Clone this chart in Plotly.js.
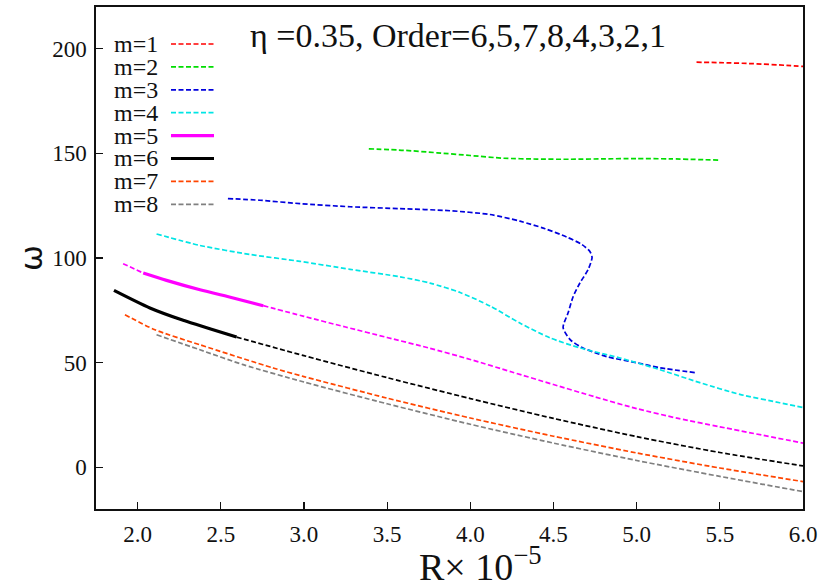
<!DOCTYPE html>
<html>
<head>
<meta charset="utf-8">
<script src="https://cdn.plot.ly/plotly-3.0.1.min.js"></script>
<style>
  html, body { margin: 0; padding: 0; background: #fff; }
  #chart { width: 830px; height: 587px; }
</style>
</head>
<body>
<div id="chart"></div>
<script>
// Frequency branches omega(R) for each azimuthal mode m, eta = 0.35
const modeLabels = ['m=1', 'm=2', 'm=3', 'm=4', 'm=5', 'm=6', 'm=7', 'm=8'];
const modeColors = ['#ff0000', '#00dd00', '#0000dd', '#00e5e5', '#ff00ff', '#000000', '#ff4500', '#808080'];
const modeSolid  = [false, false, false, false, true, true, false, false];

const xTicks = [2.0, 2.5, 3.0, 3.5, 4.0, 4.5, 5.0, 5.5, 6.0];
const yTicks = [0, 50, 100, 150, 200];

// m=1
const R1 = [5.36, 5.5, 5.7, 5.9, 6.0];
const W1 = [193.6, 193.4, 192.9, 192.1, 191.6];
// m=2
const R2 = [3.39, 3.6, 3.8, 4.0, 4.2, 4.4, 4.6, 4.8, 5.0, 5.2, 5.49];
const W2 = [152.2, 151.5, 150.3, 149.0, 147.7, 147.3, 147.2, 147.4, 147.5, 147.4, 146.8];
// m=3 (folds back on itself near R = 4.7)
const R3 = [2.543, 2.736, 2.976, 3.277, 3.577, 3.878, 4.118, 4.299, 4.45, 4.58, 4.67, 4.72, 4.732, 4.708, 4.660, 4.618, 4.588, 4.558, 4.600, 4.672, 4.822, 5.003, 5.141, 5.363];
const W3 = [128.4, 127.6, 126.0, 124.5, 123.6, 122.6, 120.8, 117.6, 114.0, 110.0, 106.5, 103.0, 100.2, 94.4, 88.2, 81.5, 73.8, 66.7, 61.0, 57.2, 52.8, 49.9, 47.5, 45.1];
// m=4
const R4 = [2.114, 2.375, 2.675, 2.976, 3.277, 3.577, 3.758, 3.939, 4.12, 4.30, 4.48, 4.66, 4.90, 5.14, 5.38, 5.62, 5.86, 6.0];
const W4 = [111.5, 106.0, 101.7, 98.4, 94.6, 91.0, 88.0, 83.5, 77.0, 68.8, 61.8, 57.0, 52.2, 46.6, 40.4, 34.8, 30.8, 28.5];
// m=5: leading branch, dominant (solid) stretch, trailing branch
const R5a = [1.913, 2.034];
const W5a = [97.3, 92.8];
const R5s = [2.034, 2.174, 2.375, 2.575, 2.755];
const W5s = [92.8, 89.3, 84.8, 80.9, 77.2];
const R5b = [2.755, 3.0, 3.25, 3.5, 3.75, 4.0, 4.25, 4.5, 4.75, 5.0, 5.25, 5.5, 6.0];
const W5b = [77.2, 72.1, 67.0, 62.0, 57.0, 51.5, 45.5, 39.5, 33.6, 28.0, 23.3, 19.3, 11.5];
// m=6: dominant (solid) stretch, then trailing branch
const R6s = [1.858, 2.074, 2.274, 2.595];
const W6s = [84.5, 76.1, 70.2, 62.2];
const R6b = [2.595, 3.0, 3.5, 4.0, 4.5, 5.0, 5.5, 6.0];
const W6b = [62.2, 53.3, 42.8, 32.8, 23.3, 14.6, 7.0, 0.6];
// m=7
const R7 = [1.924, 2.104, 2.375, 2.815, 3.0, 3.5, 4.0, 4.5, 5.0, 5.5, 6.0];
const W7 = [72.9, 65.7, 58.5, 47.4, 43.3, 33.0, 23.5, 14.8, 6.8, -0.4, -6.9];
// m=8
const R8 = [2.114, 2.375, 2.635, 3.0, 3.5, 4.0, 4.5, 5.0, 5.5, 6.0];
const W8 = [63.3, 56.1, 49.0, 40.7, 30.3, 20.5, 11.5, 3.2, -4.4, -11.7];

const DASH = '5px,2.5px';
const THIN = 1.7;
const THICK = 3.2;

function seg(x, y, color, solid) {
  return {
    type: 'scatter', mode: 'lines', x: x, y: y, showlegend: false, hoverinfo: 'skip',
    line: { color: color, width: solid ? THICK : THIN, dash: solid ? 'solid' : DASH, shape: 'spline', smoothing: 0.7 }
  };
}

const traces = [
  seg(R1, W1, modeColors[0], false),
  seg(R2, W2, modeColors[1], false),
  seg(R3, W3, modeColors[2], false),
  seg(R4, W4, modeColors[3], false),
  seg(R5a, W5a, modeColors[4], false),
  seg(R5b, W5b, modeColors[4], false),
  seg(R5s, W5s, modeColors[4], true),
  seg(R6b, W6b, modeColors[5], false),
  seg(R6s, W6s, modeColors[5], true),
  seg(R7, W7, modeColors[6], false),
  seg(R8, W8, modeColors[7], false)
];

// plot area in pixels, used to place the key and the R label in paper units
const W = 830, H = 587;
const M = { l: 96, r: 27, t: 7, b: 78 };
const plotW = W - M.l - M.r, plotH = H - M.t - M.b;
const px = v => (v - M.l) / plotW;
const py = v => 1 - (v - M.t) / plotH;

const serif = '"Liberation Serif", "Times New Roman", serif';
const annotations = [];
const shapes = [];
modeLabels.forEach((lab, i) => {
  const yy = 44 + 22.9 * i;
  annotations.push({
    xref: 'paper', yref: 'paper', x: px(112), y: py(yy), xanchor: 'left', yanchor: 'middle',
    text: lab, showarrow: false, font: { family: serif, size: 24, color: '#111' }
  });
  shapes.push({
    type: 'line', xref: 'paper', yref: 'paper', x0: px(171), x1: px(214), y0: py(yy), y1: py(yy),
    line: { color: modeColors[i], width: modeSolid[i] ? THICK : THIN, dash: modeSolid[i] ? 'solid' : DASH }
  });
});

// horizontal axis label
annotations.push({
  xref: 'paper', yref: 'paper', x: px(480), y: py(590), xanchor: 'center', yanchor: 'bottom',
  text: 'R× 10<sup>−5</sup>', showarrow: false, font: { family: serif, size: 38, color: '#111' }
});

const axisCommon = {
  showline: true, mirror: true, linecolor: '#111', linewidth: 1.6,
  ticks: 'inside', ticklen: 7, tickwidth: 1.2, tickcolor: '#111',
  showgrid: false, zeroline: false,
  tickfont: { family: serif, size: 23, color: '#111' }
};

const layout = {
  width: W, height: H,
  margin: { l: M.l, r: M.r, t: M.t, b: M.b, pad: 0 },
  paper_bgcolor: '#fff', plot_bgcolor: '#fff',
  showlegend: false,
  title: {
    text: 'η =0.35, Order=6,5,7,8,4,3,2,1',
    font: { family: serif, size: 34, color: '#111' },
    xref: 'container', yref: 'container', x: 458 / W, y: 1 - 35 / H,
    xanchor: 'center', yanchor: 'middle'
  },
  xaxis: Object.assign({}, axisCommon, {
    range: [1.75, 6.0],
    tickvals: xTicks, ticktext: xTicks.map(v => v.toFixed(1)),
    ticklabelstandoff: 4
  }),
  yaxis: Object.assign({}, axisCommon, {
    range: [-20, 220],
    tickvals: yTicks, ticktext: yTicks.map(String),
    ticklabelstandoff: 3,
    title: { text: 'ω', font: { family: 'DejaVu Sans, sans-serif', size: 31, color: '#111' }, standoff: 0 }
  }),
  annotations: annotations,
  shapes: shapes
};

Plotly.newPlot('chart', traces, layout, { displayModeBar: false, staticPlot: true });
</script>
</body>
</html>
